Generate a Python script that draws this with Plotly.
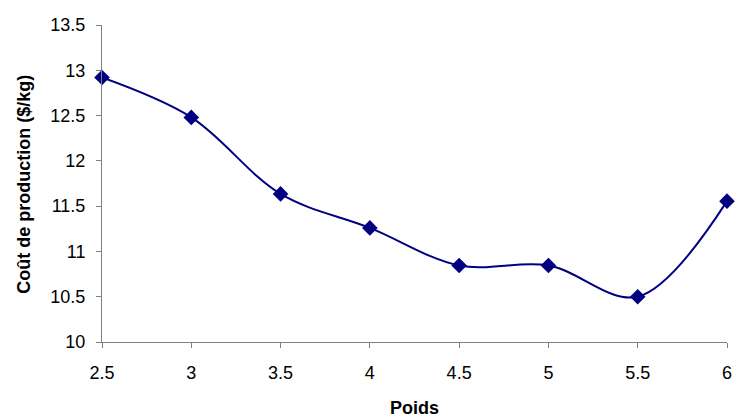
import plotly.graph_objects as go

poids = [2.5, 3, 3.5, 4, 4.5, 5, 5.5, 6]
cout = [12.92, 12.48, 11.635, 11.26, 10.845, 10.845, 10.5, 11.555]
y_ticks = [10, 10.5, 11, 11.5, 12, 12.5, 13, 13.5]
y_labels = ["10", "10.5", "11", "11.5", "12", "12.5", "13", "13.5"]

W, H = 740, 419
L, R, T, B = 102, 8, 25, 77

FONT = "Arial, Liberation Sans, sans-serif"
font_tick = dict(family=FONT, size=18, color="black")

fig = go.Figure()
fig.add_trace(go.Scatter(
    x=poids, y=cout, mode="lines+markers",
    line=dict(color="#000080", width=2, shape="spline", smoothing=1.0),
    marker=dict(symbol="diamond", size=12, color="#000080"),
    showlegend=False, cliponaxis=False,
))

fig.update_layout(
    width=W, height=H,
    margin=dict(l=L, r=R, t=T, b=B),
    plot_bgcolor="white", paper_bgcolor="white",
    xaxis=dict(range=[2.5, 6], tickvals=poids, ticktext=[str(v) for v in poids],
               showgrid=False, zeroline=False, showline=True, linecolor="#808080",
               linewidth=1, ticks="outside", ticklen=5, tickcolor="#808080",
               tickfont=font_tick, ticklabelstandoff=9),
    yaxis=dict(range=[10, 13.5], tickvals=y_ticks, ticktext=y_labels,
               showgrid=False, zeroline=False, showline=True, linecolor="#808080",
               linewidth=1, ticks="outside", ticklen=5, tickcolor="#808080",
               tickfont=font_tick, ticklabelstandoff=7),
    annotations=[
        dict(text="<b>Coût de production ($/kg)</b>", xref="paper", yref="paper",
             x=(23 - L) / (W - L - R), y=(H - B - 184) / (H - B - T),
             textangle=-90, showarrow=False, xanchor="center", yanchor="middle",
             font=dict(family=FONT, size=18, color="black")),
        dict(text="<b>Poids</b>", xref="paper", yref="paper",
             x=0.5, y=((H - B) - 408) / (H - B - T),
             showarrow=False, xanchor="center", yanchor="middle",
             font=dict(family=FONT, size=18, color="black")),
    ],
)

fig.write_html("out.html")
